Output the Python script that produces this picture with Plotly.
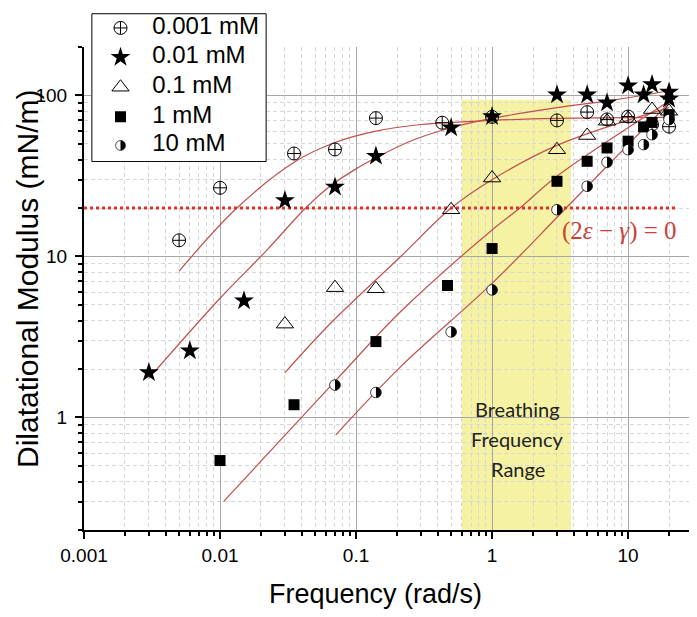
import math
import base64
import plotly.graph_objects as go

# legend labels
labels = ["0.001 mM", "0.01 mM", "0.1 mM", "1 mM", "10 mM"]

# measured moduli (frequency in rad/s, modulus in mN/m)
x_0001 = [0.005, 0.01, 0.035, 0.07, 0.14, 0.43, 1, 3, 5, 7, 10, 15, 20]
y_0001 = [12.6, 26.7, 43.6, 46.2, 72.3, 67.7, 73.6, 70, 78.8, 71, 74, 66, 64]

x_001 = [0.003, 0.006, 0.015, 0.03, 0.07, 0.14, 0.5, 1, 3, 5, 7, 10, 13, 15, 20, 20]
y_001 = [1.9, 2.6, 5.3, 22.3, 27, 42, 63, 74, 101, 101, 90, 115, 101, 117, 105, 95]

x_01 = [0.03, 0.07, 0.14, 0.5, 1, 3, 5, 7, 10, 15, 20]
y_01 = [3.8, 6.4, 6.3, 19.5, 30.7, 46, 56.4, 69.2, 72, 81.8, 79.8]

x_1 = [0.01, 0.035, 0.14, 0.47, 1, 3, 5, 7, 10, 13, 15, 20]
y_1 = [0.54, 1.2, 2.96, 6.6, 11.2, 29.3, 39, 47.2, 52, 63.8, 68, 76]

x_10 = [0.07, 0.14, 0.5, 1, 3, 5, 7, 10, 13, 15, 20]
y_10 = [1.59, 1.43, 3.4, 6.2, 19.5, 27.3, 38.5, 46, 49.5, 57, 70.8]

# fitted curves
fx_0001 = [0.005, 0.0133, 0.036, 0.07, 0.14, 0.3, 1, 3, 20]
fy_0001 = [8.1, 20, 39, 51, 60, 66, 70, 72, 73]

fx_001 = [0.003, 0.01, 0.0222, 0.0426, 0.065, 0.1, 0.14, 0.25, 0.5, 1, 3, 8, 20]
fy_001 = [1.75, 5.5, 11, 20, 27.5, 35, 41, 52, 63, 72, 84, 94, 107]

fx_01 = [0.03, 0.065, 0.213, 0.5, 1, 3, 20]
fy_01 = [1.9, 3.85, 10, 20, 30, 49, 84]

fx_1 = [0.0106, 0.071, 0.213, 1, 1.6, 3, 20]
fy_1 = [0.3, 1.7, 4.55, 14.6, 20, 31.5, 92]

fx_10 = [0.071, 0.213, 1, 3.5, 20]
fy_10 = [0.78, 2.07, 6.8, 20, 90]

# (2e - g) = 0 threshold line and breathing band
thresh_x = [0.001, 23]
thresh_y = [20, 20]
band_x = [0.6, 3.8]
band_top = 94

X_RANGE = [-3, math.log10(30)]
Y_RANGE = [math.log10(0.2), math.log10(200)]
PLOT_W, PLOT_H = 609, 483
PAPER_H = 522

RED = "#c0504d"
FONT = "Liberation Sans"

# half-filled circle marker (no such symbol in plotly), drawn as a small svg
half_svg = ("<svg xmlns='http://www.w3.org/2000/svg' width='24' height='24' viewBox='0 0 24 24'>"
            "<circle cx='12' cy='12' r='10.7' fill='white' stroke='black' stroke-width='1.5'/>"
            "<path d='M12 1.3 A10.7 10.7 0 0 1 12 22.7 Z' fill='black'/></svg>")
HALF_SRC = "data:image/svg+xml;base64," + base64.b64encode(half_svg.encode()).decode()
HALF_PX = 12

fig = go.Figure()

fig.add_shape(type="rect", xref="x", yref="y", x0=band_x[0], x1=band_x[1],
              y0=0.1, y1=band_top, fillcolor="#f6f2a4", line_width=0, layer="below")

for fx, fy in [(fx_0001, fy_0001), (fx_001, fy_001), (fx_01, fy_01),
               (fx_1, fy_1), (fx_10, fy_10)]:
    fig.add_trace(go.Scatter(x=fx, y=fy, mode="lines", showlegend=False,
                             line=dict(color=RED, width=1.2, shape="spline", smoothing=1)))

fig.add_trace(go.Scatter(x=thresh_x, y=thresh_y, mode="lines", showlegend=False,
                         line=dict(color="#e0302b", width=3, dash="dot")))

styles = [
    dict(symbol="circle-cross-open", size=13, color="black", line=dict(color="black", width=1)),
    dict(symbol="star", size=15, color="black", line=dict(width=0)),
    dict(symbol="triangle-up-open", size=15, color="black", line=dict(color="black", width=1)),
    dict(symbol="square", size=11, color="black", line=dict(width=0)),
]
for (px, py), st in zip([(x_0001, y_0001), (x_001, y_001), (x_01, y_01), (x_1, y_1)], styles):
    fig.add_trace(go.Scatter(x=px, y=py, mode="markers", marker=st, showlegend=False))

sx = HALF_PX * (X_RANGE[1] - X_RANGE[0]) / PLOT_W
sy = HALF_PX * (Y_RANGE[1] - Y_RANGE[0]) / PLOT_H
for xv, yv in zip(x_10, y_10):
    fig.add_layout_image(source=HALF_SRC, xref="x", yref="y", x=math.log10(xv), y=math.log10(yv),
                         sizex=sx, sizey=sy, xanchor="center", yanchor="middle",
                         sizing="stretch", layer="above")

# legend drawn on an overlay subplot
rows = [0.908, 0.707, 0.503, 0.302, 0.105]
fig.add_trace(go.Scatter(x=[-0.005, 1.005, 1.005, -0.005, -0.005], y=[-0.005, -0.005, 1.005, 1.005, -0.005],
                         xaxis="x2", yaxis="y2", mode="lines", fill="toself", fillcolor="white",
                         line=dict(color="black", width=1), showlegend=False, hoverinfo="skip"))
for r, st in zip(rows[:4], styles):
    fig.add_trace(go.Scatter(x=[0.161], y=[r], xaxis="x2", yaxis="y2", mode="markers",
                             marker=st, showlegend=False))
fig.add_layout_image(source=HALF_SRC, xref="x2", yref="y2", x=0.161, y=rows[4],
                     sizex=11 * 1.02 / 176, sizey=11 * 1.02 / 149, xanchor="center", yanchor="middle",
                     sizing="stretch", layer="above")
fig.add_trace(go.Scatter(x=[0.345] * 5, y=rows, xaxis="x2", yaxis="y2", mode="text", text=labels,
                         textposition="middle right", showlegend=False,
                         textfont=dict(family=FONT, size=24, color="black")))

axis_common = dict(
    type="log", showline=True, linecolor="black", linewidth=2, mirror=False,
    ticks="outside", ticklen=7, tickwidth=2, tickcolor="black", dtick=1,
    showgrid=True, gridcolor="#a6a6a6", gridwidth=1, zeroline=False, automargin=False,
    tickfont=dict(family=FONT, size=19, color="black"),
    minor=dict(dtick="D1", ticks="outside", ticklen=4, tickwidth=1.5, tickcolor="black",
               showgrid=True, gridcolor="#d6d6d6", griddash="4px,3px", gridwidth=1),
)

# page body adds an 8px offset, so the figure is 8px smaller and shifted
fig.update_layout(
    width=689, height=609,
    margin=dict(l=76, r=4, t=0, b=87),
    paper_bgcolor="white", plot_bgcolor="white",
    showlegend=False,
    xaxis=dict(axis_common, range=X_RANGE),
    yaxis=dict(axis_common, range=Y_RANGE, domain=[0, PLOT_H / PAPER_H], ticklabelstandoff=4),
    xaxis2=dict(domain=[7 / 609, 183 / 609], range=[-0.01, 1.01], visible=False, anchor="y2"),
    yaxis2=dict(domain=[367.7 / PAPER_H, 517 / PAPER_H], range=[-0.01, 1.01], visible=False, anchor="x2"),
)

# axis titles
fig.add_annotation(text="Frequency (rad/s)", xref="paper", yref="paper", x=(375 - 84) / 609,
                   y=-64 / PAPER_H, xanchor="center", yanchor="middle", showarrow=False,
                   font=dict(family=FONT, size=27, color="black"))
fig.add_annotation(text="Dilatational Modulus (mN/m)", xref="paper", yref="paper", x=-56 / 609,
                   y=(530 - 279) / PAPER_H, xanchor="center", yanchor="middle", textangle=-90,
                   showarrow=False, font=dict(family=FONT, size=30, color="black"))

fig.add_annotation(x=math.log10(8.6), y=math.log10(14.3), xref="x", yref="y", showarrow=False,
                   text="(2<i>\u03b5</i> \u2212 <i>\u03b3</i>) = 0",
                   font=dict(family="Liberation Serif", size=25, color="#c8413b"))
for txt, yy in [("Breathing", 1.133), ("Frequency", 0.737), ("Range", 0.48)]:
    fig.add_annotation(x=math.log10(1.55), y=math.log10(yy), xref="x", yref="y", showarrow=False,
                       text=txt, font=dict(family="Lato", size=20, color="#222222"))

fig.write_html("out.html")
